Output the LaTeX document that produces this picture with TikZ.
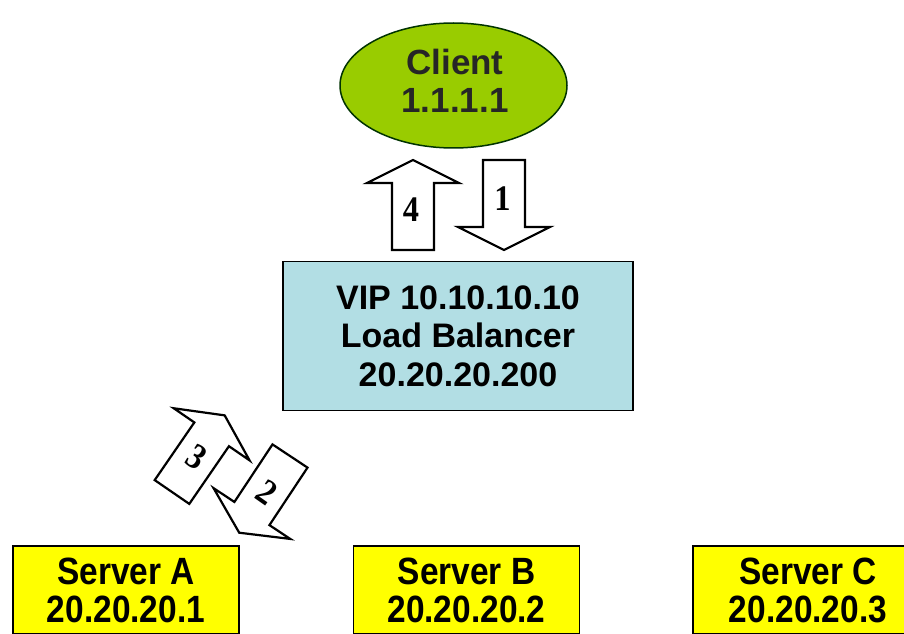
\documentclass[tikz,border=0pt]{standalone}
\usepackage{fontspec}
\usetikzlibrary{shapes.geometric}
\setmainfont{Liberation Sans}
\newfontfamily\narrowsans[FakeStretch=0.88]{Liberation Sans}
\newfontfamily\digitserif[FakeStretch=0.9]{Liberation Serif}
\definecolor{clientgreen}{RGB}{153,204,0}
\definecolor{lbblue}{RGB}{178,222,228}
\definecolor{serveryellow}{RGB}{255,255,0}
\newcommand\flowarrow[3]{%
  \begin{scope}[shift={#1},rotate=#2]
    \draw[arrowshape] (0,-21) -- ({#3-23},-21) -- ({#3-23},-46) -- (#3,0)
      -- ({#3-23},46) -- ({#3-23},21) -- (0,21) -- cycle;
  \end{scope}}
\begin{document}
\begin{tikzpicture}[x=0.5pt,y=0.5pt,
  arrowshape/.style={draw=black,fill=white,line width=1.1pt,line join=miter},
  clientnode/.style={ellipse,draw=black!80!green,line width=0.75pt,fill=clientgreen,
    minimum width=113.5pt,minimum height=62.5pt,inner sep=0pt},
  cltext/.style={font=\fontsize{17.5}{19}\selectfont\bfseries,align=center,text=black!85,inner sep=0pt},
  lbnode/.style={draw=black,line width=0.9pt,fill=lbblue,minimum width=175pt,minimum height=74.5pt,
    align=center,font=\fontsize{17}{19.25}\selectfont\bfseries,inner sep=0pt},
  servernode/.style={draw=black,line width=0.9pt,fill=serveryellow,minimum width=113pt,minimum height=44pt,
    align=center,font=\narrowsans\fontsize{19}{19}\selectfont\bfseries,inner sep=0pt},
  digit/.style={font=\digitserif\fontsize{18}{18}\selectfont\bfseries,inner sep=0pt}]
\useasboundingbox (0,0) rectangle (904,633);
\clip (0,0) rectangle (904,633);
\fill[white] (0,0) rectangle (904,633);
% client
\node[clientnode] (client) at (453.5,547.5) {};
\node[cltext] (clienttext) at (455,552) {Client\\1.1.1.1};
% load balancer
\node[lbnode] (lb) at (458,297) {VIP 10.10.10.10\\Load Balancer\\20.20.20.200};
% servers
\node[servernode] (srvA) at (126,43) {Server A\\20.20.20.1};
\node[servernode] (srvB) at (466.5,43) {Server B\\20.20.20.2};
\node[servernode,minimum width=115pt] (srvC) at (808,43) {Server C\\20.20.20.3};
% flow arrows
\flowarrow{(413,383)}{90}{90}
\flowarrow{(504,473)}{-90}{90}
\flowarrow{(172,141)}{55.5}{93}
\flowarrow{(290,177)}{-123.5}{92}
\node[digit] (n4) at (411,423.5) {4};
\node[digit] (n1) at (502.5,434.5) {1};
\node[digit,rotate=-33] (n3) at (197,176) {3};
\node[digit,rotate=-35] (n2) at (267,141) {2};
\end{tikzpicture}
\end{document}
